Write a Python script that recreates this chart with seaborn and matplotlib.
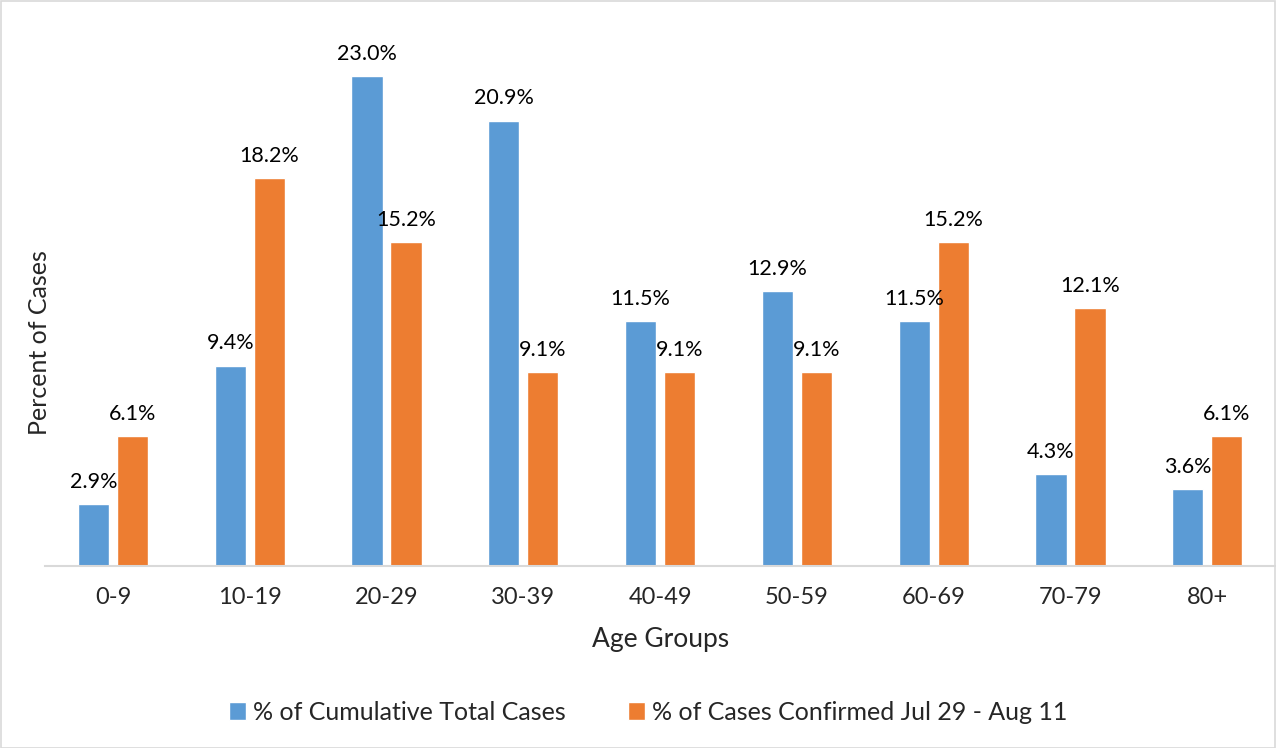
import matplotlib
matplotlib.use("Agg")
import matplotlib.pyplot as plt
import seaborn as sns
import pandas as pd
from matplotlib.patches import Rectangle

age_groups = ["0-9", "10-19", "20-29", "30-39", "40-49", "50-59", "60-69", "70-79", "80+"]
cumulative = [2.9, 9.4, 23.0, 20.9, 11.5, 12.9, 11.5, 4.3, 3.6]
recent = [6.1, 18.2, 15.2, 9.1, 9.1, 9.1, 15.2, 12.1, 6.1]
series_names = ["% of Cumulative Total Cases", "% of Cases Confirmed Jul 29 - Aug 11"]
colors = ["#5B9BD5", "#ED7D31"]

df = pd.DataFrame({
    "Age": age_groups * 2,
    "Value": cumulative + recent,
    "Series": [series_names[0]] * len(age_groups) + [series_names[1]] * len(age_groups),
})

sns.set_style("white")
plt.rcParams['font.family'] = ['Lato', 'DejaVu Sans']

W, H = 1276, 748
fig = plt.figure(figsize=(W / 100, H / 100), dpi=100)
ax_left, ax_right, ax_bottom, ax_top = 44.6, 1275.6, 566, 33.5
ax = fig.add_axes([ax_left / W, 1 - ax_bottom / H, (ax_right - ax_left) / W, (ax_bottom - ax_top) / H])

sns.barplot(data=df, x="Age", y="Value", hue="Series", palette=colors,
            width=0.57, gap=0.2, ax=ax, legend=True, saturation=1)

ax.set_ylim(0, 25)
ax.set_xlim(-0.5, len(age_groups) - 0.5)
for c in ax.containers:
    ax.bar_label(c, labels=[f"{v:.1f}%" for v in c.datavalues], padding=9,
                 fontsize=15.5, color="#000000")

for s in ["top", "right", "left"]:
    ax.spines[s].set_visible(False)
ax.spines["bottom"].set_color("#D9D9D9")
ax.spines["bottom"].set_linewidth(1.5)
ax.set_yticks([])
ax.tick_params(axis="x", length=0, labelsize=17, pad=15)
ax.set_xlabel("Age Groups", fontsize=19, labelpad=14)
ax.set_ylabel("Percent of Cases", fontsize=18)
ax.yaxis.set_label_coords(6 / (ax_right - ax_left), (ax_bottom - 343) / (ax_bottom - ax_top))

handles, labels = ax.get_legend_handles_labels()
ax.legend(handles, labels, loc="center", bbox_to_anchor=(648 / W, 1 - 712 / H),
          bbox_transform=fig.transFigure, ncol=2, frameon=False, fontsize=18,
          handlelength=0.7, handleheight=0.7, handletextpad=0.25, columnspacing=2.5)

fig.patches.append(Rectangle((0.5 / W, 0.5 / H), 1 - 1.5 / W, 1 - 1.5 / H,
                             transform=fig.transFigure, fill=False,
                             edgecolor="#D9D9D9", linewidth=1.2))

fig.savefig("out.png", dpi=100)
